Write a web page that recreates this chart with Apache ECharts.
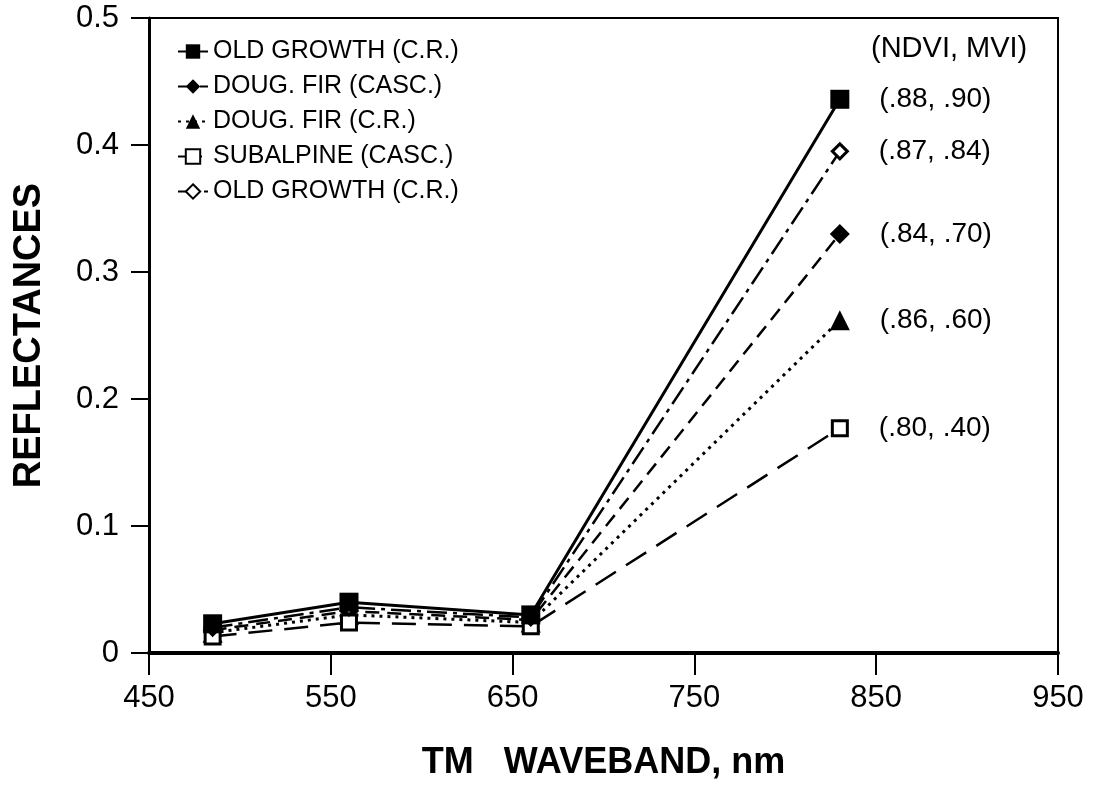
<!DOCTYPE html>
<html>
<head>
<meta charset="utf-8">
<script src="https://cdn.jsdelivr.net/npm/echarts@6/dist/echarts.min.js"></script>
<style>
  html, body { margin: 0; padding: 0; background: #fff; }
  #main { width: 1100px; height: 787px; }
</style>
</head>
<body>
<div id="main"></div>
<script>
// TM band centres (nm)
var bands = [485, 560, 660, 830];

// reflectances per stand
var oldGrowthCR   = [0.023, 0.040, 0.030, 0.436];
var dougFirCasc   = [0.018, 0.033, 0.026, 0.330];
var dougFirCR     = [0.016, 0.030, 0.024, 0.262];
var subalpineCasc = [0.013, 0.024, 0.021, 0.177];
var oldGrowthCR2  = [0.020, 0.036, 0.028, 0.395];

var seriesNames = [
  'OLD GROWTH (C.R.)',
  'DOUG. FIR (CASC.)',
  'DOUG. FIR (C.R.)',
  'SUBALPINE (CASC.)',
  'OLD GROWTH (C.R.) '
];
// (NDVI, MVI) labels at the TM4 end
var indexLabels = ['(.88, .90)', '(.84, .70)', '(.86, .60)', '(.80, .40)', '(.87, .84)'];

var yTicks = [0, 0.1, 0.2, 0.3, 0.4, 0.5];
var xTicks = [450, 550, 650, 750, 850, 950];

var FONT = '"Liberation Sans", Arial, sans-serif';

function makeData(vals, label) {
  var out = [];
  for (var i = 0; i < vals.length; i++) {
    var item = { value: [bands[i], vals[i]] };
    if (i == vals.length - 1) {
      item.label = {
        show: true,
        position: 'right',
        distance: 30,
        formatter: label,
        color: '#000',
        fontFamily: FONT,
        fontSize: 28
      };
    }
    out.push(item);
  }
  return out;
}

function makeSeries(idx, vals, symbol, size, lineType, lineWidth, filled) {
  return {
    name: seriesNames[idx],
    type: 'line',
    data: makeData(vals, indexLabels[idx]),
    symbol: symbol,
    symbolSize: size,
    showAllSymbol: true,
    lineStyle: { color: '#000', width: lineWidth, type: lineType },
    itemStyle: {
      color: filled ? '#000' : '#fff',
      borderColor: '#000',
      borderWidth: filled ? 0 : 3
    },
    emphasis: { disabled: true },
    animation: false
  };
}

var chart = echarts.init(document.getElementById('main'));
var option = {
  backgroundColor: '#fff',
  animation: false,
  grid: {
    left: 149, right: 42, top: 18, bottom: 134,
    show: true, borderColor: '#000', borderWidth: 2,
    containLabel: false
  },
  title: {
    text: '(NDVI, MVI)',
    left: 866, top: 29,
    textStyle: { fontFamily: FONT, fontWeight: 'normal', fontSize: 29, color: '#000' }
  },
  legend: {
    orient: 'vertical',
    left: 172, top: 34,
    itemGap: 10,
    itemWidth: 30, itemHeight: 18,
    textStyle: { fontFamily: FONT, fontSize: 25, color: '#000' },
    data: seriesNames
  },
  xAxis: {
    type: 'value',
    min: xTicks[0], max: xTicks[xTicks.length - 1], interval: 100,
    name: 'TM   WAVEBAND, nm',
    nameLocation: 'middle',
    nameGap: 92,
    nameTextStyle: { fontFamily: FONT, fontWeight: 'bold', fontSize: 36, color: '#000' },
    axisLine: { lineStyle: { color: '#000', width: 4 } },
    axisTick: { show: true, length: 22, lineStyle: { color: '#000', width: 2 } },
    axisLabel: { margin: 30, fontFamily: FONT, fontSize: 31, color: '#000' },
    splitLine: { show: false }
  },
  yAxis: {
    type: 'value',
    min: yTicks[0], max: yTicks[yTicks.length - 1], interval: 0.1,
    name: 'REFLECTANCES',
    nameLocation: 'middle',
    nameGap: 100,
    nameTextStyle: { fontFamily: FONT, fontWeight: 'bold', fontSize: 38, color: '#000' },
    axisLine: { show: true, lineStyle: { color: '#000', width: 3 } },
    axisTick: { show: true, length: 18, lineStyle: { color: '#000', width: 2 } },
    axisLabel: { margin: 30, fontFamily: FONT, fontSize: 31, color: '#000' },
    splitLine: { show: false }
  },
  series: [
    makeSeries(0, oldGrowthCR, 'rect', 19, 'solid', 3, true),
    makeSeries(1, dougFirCasc, 'diamond', 20, [14, 8], 2.5, true),
    makeSeries(2, dougFirCR, 'triangle', 20, [3, 5], 3, true),
    makeSeries(3, subalpineCasc, 'rect', 15, [24, 12], 2.5, false),
    makeSeries(4, oldGrowthCR2, 'diamond', 15, [20, 6, 4, 6], 2.5, false)
  ]
};
// draw the filled-square series last so it sits on top at the low bands
option.series.push(option.series.shift());
chart.setOption(option);
</script>
</body>
</html>
